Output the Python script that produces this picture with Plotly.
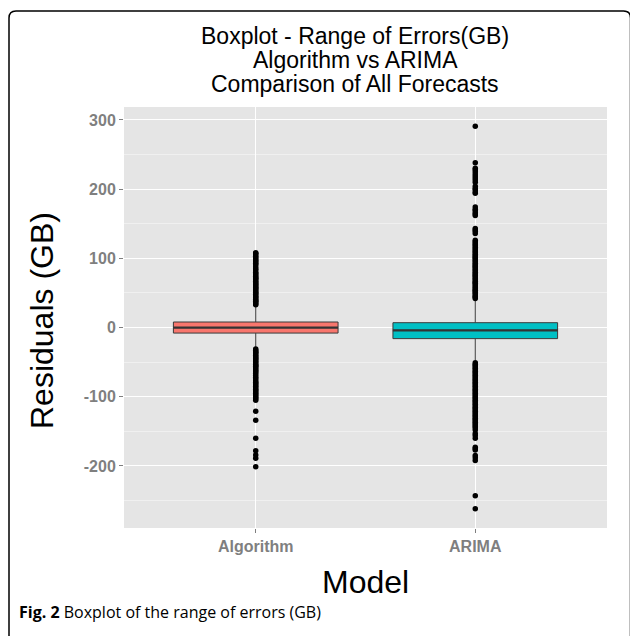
import plotly.graph_objects as go

# ---------------- data ----------------
models = ["Algorithm", "ARIMA"]
box_colors = ["#F8766D", "#00BFC4"]

q1 = [-8, -16]
median = [0, -4]
q3 = [8, 7]
lower_whisker = [-30, -47]
upper_whisker = [30, 40]

algo_outliers = [
    33, 34, 36, 38, 39, 41, 43, 44, 46, 48, 50, 51, 53, 55, 57, 58, 60, 62, 63,
    65, 67, 69, 71, 72, 74, 76, 78, 80, 83, 85, 88, 91, 93, 95, 97, 99, 101, 103,
    105, 107, 108,
    -31, -33, -35, -36, -38, -40, -42, -44, -45, -47, -49, -51, -53, -55, -56,
    -58, -60, -62, -64, -66, -69, -72, -74, -77, -79, -81, -83, -85, -87, -89,
    -91, -93, -95, -97, -99, -101, -103, -105, -121, -134, -160, -178, -184,
    -189, -201,
]
arima_outliers = [
    42, 44, 45, 47, 49, 51, 53, 54, 56, 58, 60, 62, 64, 65, 67, 69, 71, 73, 75,
    76, 78, 80, 82, 84, 86, 88, 89, 91, 93, 95, 97, 99, 101, 102, 104, 106, 108,
    110, 112, 114, 116, 118, 120, 122, 124, 126,
    136, 139, 141, 143, 162, 164, 166, 169, 171, 174,
    194, 196, 199, 201, 204, 210, 213, 216, 219, 222, 225, 228, 230, 238, 291,
    -51, -53, -55, -57, -59, -61, -63, -65, -67, -69, -71, -73, -75, -77, -79,
    -81, -83, -85, -87, -89, -91, -93, -95, -97, -99, -101, -103, -105, -107,
    -109, -111, -113, -115, -117, -119, -121, -123, -125, -127, -129, -131,
    -133, -135, -137, -139, -141, -143, -145, -148,
    -153, -156, -160, -173, -175, -177, -185, -188, -192, -243, -262,
]
outliers = [algo_outliers, arima_outliers]

title_lines = ["Boxplot - Range of Errors(GB)", "Algorithm vs ARIMA",
               "Comparison of All Forecasts"]
y_title = "Residuals (GB)"
x_title = "Model"
caption = "<b>Fig. 2</b> Boxplot of the range of errors (GB)"
y_ticks = [-200, -100, 0, 100, 200, 300]
y_tick_text = ["-200", "-100", "0", "100", "200", "300"]
y_minor = [-250, -150, -50, 50, 150, 250]

# ---------------- layout geometry (pixels) ----------------
FIG_W, FIG_H = 630, 636
ML, MR, MT, MB = 124, 23, 107, 108
PW = FIG_W - ML - MR
PH = FIG_H - MT - MB


def px(xpix):
    return (xpix - ML) / PW


def py(ypix):
    return (FIG_H - MB - ypix) / PH


fig = go.Figure()
BOX_WIDTH = 0.75
for i, m in enumerate(models):
    fig.add_trace(go.Box(
        x=[m], q1=[q1[i]], median=[median[i]], q3=[q3[i]],
        lowerfence=[lower_whisker[i]], upperfence=[upper_whisker[i]],
        fillcolor=box_colors[i], line=dict(color="#3A3A3A", width=1),
        width=BOX_WIDTH, whiskerwidth=0, boxpoints=False, showlegend=False,
    ))
    fig.add_trace(go.Scatter(
        x=[m] * len(outliers[i]), y=outliers[i], mode="markers",
        marker=dict(color="black", size=5.5), showlegend=False,
    ))
    # thicker median bar like ggplot
    fig.add_shape(type="line", xref="x", yref="y",
                  x0=i - BOX_WIDTH / 2, x1=i + BOX_WIDTH / 2,
                  y0=median[i], y1=median[i],
                  line=dict(color="#333333", width=2.2))

all_vals = [v for lst in outliers for v in lst]
lo, hi = min(all_vals), max(all_vals)
pad = (hi - lo) * 0.05
grey = "#7F7F7F"
tick_font = dict(family="Liberation Sans, Arial", size=16, color=grey, weight="bold")

fig.update_layout(
    width=FIG_W, height=FIG_H, autosize=False,
    margin=dict(l=ML, r=MR, t=MT, b=MB, pad=0),
    paper_bgcolor="white", plot_bgcolor="#E5E5E5",
    font=dict(family="Liberation Sans, Arial", color="black"),
    xaxis=dict(
        type="category", range=[-0.6, 1.6], showgrid=True, gridcolor="white",
        gridwidth=1.2, zeroline=False, showline=False,
        ticks="outside", ticklen=4, tickcolor=grey, tickwidth=1,
        tickfont=tick_font,
    ),
    yaxis=dict(
        range=[lo - pad, hi + pad], tickvals=y_ticks, ticktext=y_tick_text,
        showgrid=True, gridcolor="white", gridwidth=1.2, zeroline=False,
        showline=False, ticks="outside", ticklen=4, tickcolor=grey,
        tickwidth=1, tickfont=tick_font,
        minor=dict(tickvals=y_minor, showgrid=True, gridcolor="#F0F0F0",
                   gridwidth=0.8, ticks=""),
    ),
)

ann = []
for t, ypix in zip(title_lines, [36, 60, 84]):
    ann.append(dict(text=t, x=px(355), y=py(ypix), xref="paper", yref="paper",
                    xanchor="center", yanchor="middle", showarrow=False,
                    font=dict(size=23, color="black")))
ann.append(dict(text=y_title, x=px(42), y=py(321), xref="paper", yref="paper",
                xanchor="center", yanchor="middle", textangle=-90,
                showarrow=False, font=dict(size=32, color="black")))
ann.append(dict(text=x_title, x=px(365), y=py(582), xref="paper", yref="paper",
                xanchor="center", yanchor="middle", showarrow=False,
                font=dict(size=32, color="black")))
ann.append(dict(text=caption, x=px(17), y=py(612), xref="paper", yref="paper",
                xanchor="left", yanchor="middle", showarrow=False,
                font=dict(family="Open Sans", size=16, color="black")))
fig.update_layout(annotations=ann)

# rounded frame around the figure
L, T, R, B = px(9), py(11), px(630.5), py(640)
rx, ry = 7 / PW, 7 / PH
frame_path = (f"M {L},{B} L {L},{T - ry} Q {L},{T} {L + rx},{T} "
              f"L {R - rx},{T} Q {R},{T} {R},{T - ry} L {R},{B}")
fig.add_shape(type="path", path=frame_path, xref="paper", yref="paper",
              line=dict(color="black", width=1.5), layer="above")

fig.write_html("out.html")
